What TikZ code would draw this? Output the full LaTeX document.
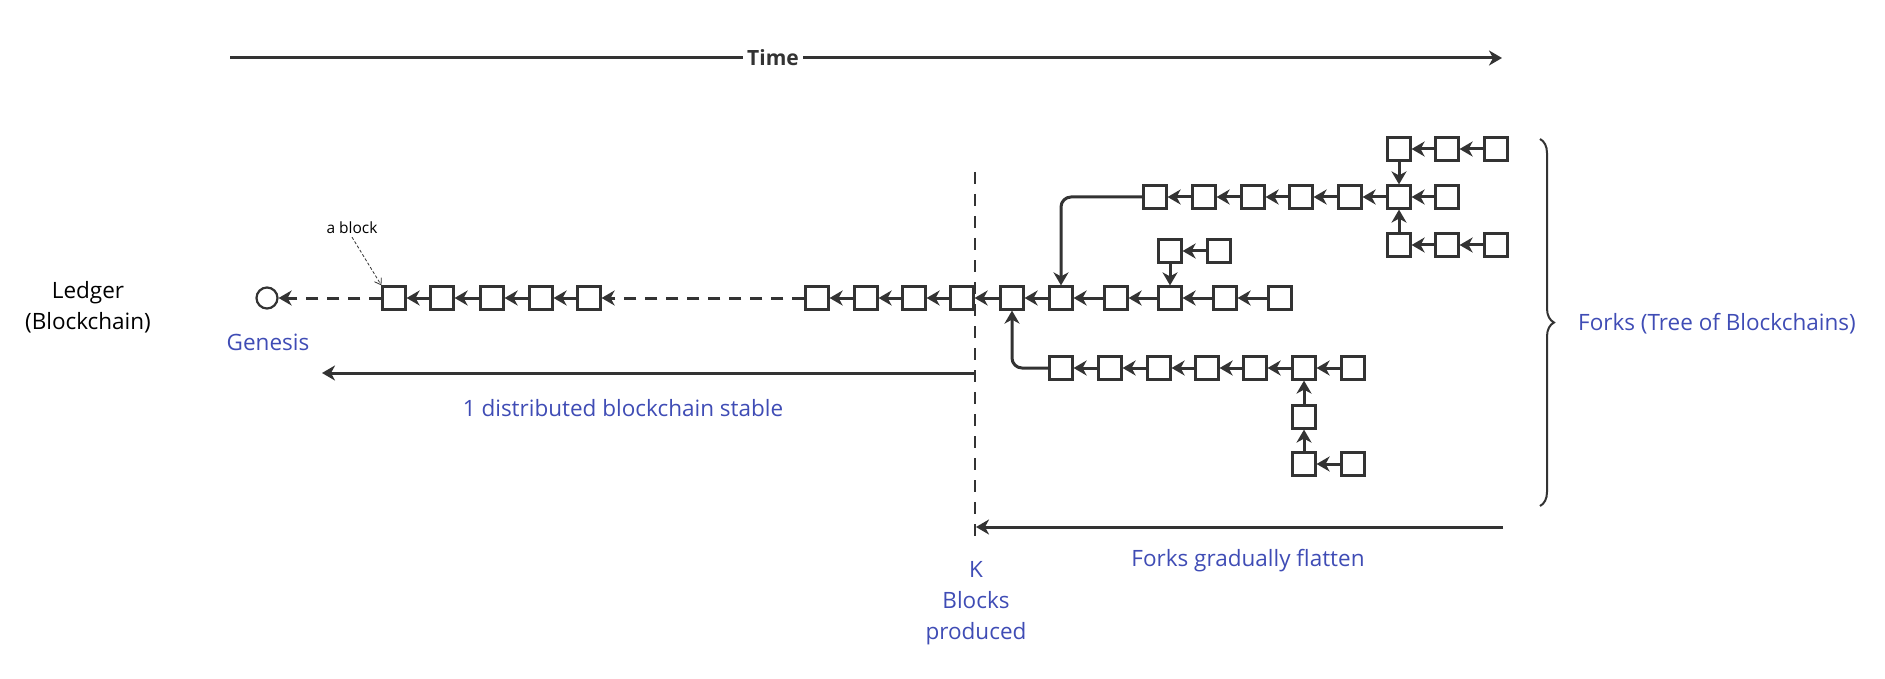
\documentclass[tikz,border=0pt]{standalone}
\usepackage{fontspec}
\setmainfont{Open Sans}
\usetikzlibrary{arrows.meta,decorations.pathreplacing}
\definecolor{ink}{HTML}{333333}
\definecolor{lbl}{HTML}{3F4CB5}
\tikzset{
  blk/.style={draw=ink,line width=2.2pt,minimum size=23pt,inner sep=0pt},
  link/.style={draw=ink,line width=3pt,-{Stealth[length=13pt,width=15pt,inset=4pt]}},
  dlink/.style={link,dash pattern=on 12pt off 9pt},
  txt/.style={font=\fontsize{22.5}{31}\selectfont,align=center,inner sep=0pt},
  btxt/.style={txt,text=lbl},
}
\begin{document}
\begin{tikzpicture}[x=1pt,y=-1pt]
\useasboundingbox (0,0) rectangle (1885,679);
% Time axis
\coordinate (ts) at (230,58);
\coordinate (te) at (1502,58);
\node[txt,font=\fontsize{21}{31}\selectfont\bfseries,text=ink,inner xsep=4pt] (time) at (773,58) {Time};
\draw[ink,line width=3pt] (ts) -- (time.west);
\draw[link] (time.east) -- (te);
% labels
\node[txt] (ledger) at (88,307) {Ledger\\(Blockchain)};
\node[btxt] (gen) at (268,342) {Genesis};
\node[btxt] (stable) at (623,408) {1 distributed blockchain stable};
\node[btxt] (flat) at (1248,561) {Forks gradually flatten};
\node[btxt] (kb) at (976,603) {K\\Blocks\\produced};
\node[btxt,anchor=west] (forks) at (1578,324) {Forks (Tree of Blockchains)};
\node[txt,font=\fontsize{15.5}{18}\selectfont] (ablock) at (352,228) {a block};
% genesis
\node[draw=ink,line width=2.2pt,circle,minimum size=21pt,inner sep=0pt] (g) at (267,298) {};
% main row
\foreach \n/\x in {L1/394,L2/442,L3/492,L4/541,L5/589,M1/817,M2/866,M3/914,M4/962,M5/1012,M6/1061,M7/1116,M8/1170,M9/1225,M10/1280}
  \node[blk] (\n) at (\x,298) {};
\foreach \n/\x in {S1/1170,S2/1219} \node[blk] (\n) at (\x,251) {};
\foreach \n/\x in {T1/1155,T2/1204,T3/1253,T4/1301,T5/1350,T6/1399,T7/1447} \node[blk] (\n) at (\x,197) {};
\foreach \n/\x in {U1/1399,U2/1447,U3/1496} \node[blk] (\n) at (\x,149) {};
\foreach \n/\x in {V1/1399,V2/1447,V3/1496} \node[blk] (\n) at (\x,245) {};
\foreach \n/\x in {W1/1061,W2/1110,W3/1159,W4/1207,W5/1255,W6/1304,W7/1353} \node[blk] (\n) at (\x,368) {};
\node[blk] (X1) at (1304,417) {};
\foreach \n/\x in {Y1/1304,Y2/1353} \node[blk] (\n) at (\x,464) {};
% links
\foreach \a/\b in {L2/L1,L3/L2,L4/L3,L5/L4,M2/M1,M3/M2,M4/M3,M5/M4,M6/M5,M7/M6,M8/M7,M9/M8,M10/M9,S2/S1,T2/T1,T3/T2,T4/T3,T5/T4,T6/T5,T7/T6,U2/U1,U3/U2,V2/V1,V3/V2,W2/W1,W3/W2,W4/W3,W5/W4,W6/W5,W7/W6,Y2/Y1}
  \draw[link] (\a) -- (\b);
\draw[link] (S1) -- (M8);
\draw[link] (U1) -- (T6);
\draw[link] (V1) -- (T6);
\draw[link] (X1) -- (W6);
\draw[link] (Y1) -- (X1);
\draw[link,rounded corners=10pt] (T1.west) -| (M6.north);
\draw[link,rounded corners=10pt] (W1.west) -| (M5.south);
\draw[dlink] (L1) -- (g);
\draw[dlink] (M1) -- (L5);
% a block pointer
\draw[ink,line width=0.8pt,dash pattern=on 3pt off 2pt,-{Straight Barb[length=6pt,width=8pt]}] (ablock.south) ++(0,3) -- (L1.north west);
% K line
\coordinate (kt) at (975,172);
\coordinate (kbot) at (975,542);
\draw[ink,line width=2.5pt,dash pattern=on 12pt off 10pt] (kt) -- (kbot);
% horizontal arrows
\coordinate (s1) at (974,373);
\coordinate (s2) at (322,373);
\draw[link] (s1) -- (s2);
\coordinate (f1) at (1503,527);
\coordinate (f2) at (976,527);
\draw[link] (f1) -- (f2);
% brace
\coordinate (b1) at (1540,139);
\coordinate (b2) at (1540,506);
\draw[ink,line width=2pt,decorate,decoration={brace,amplitude=14pt}] (b1) -- (b2);
\end{tikzpicture}
\end{document}
